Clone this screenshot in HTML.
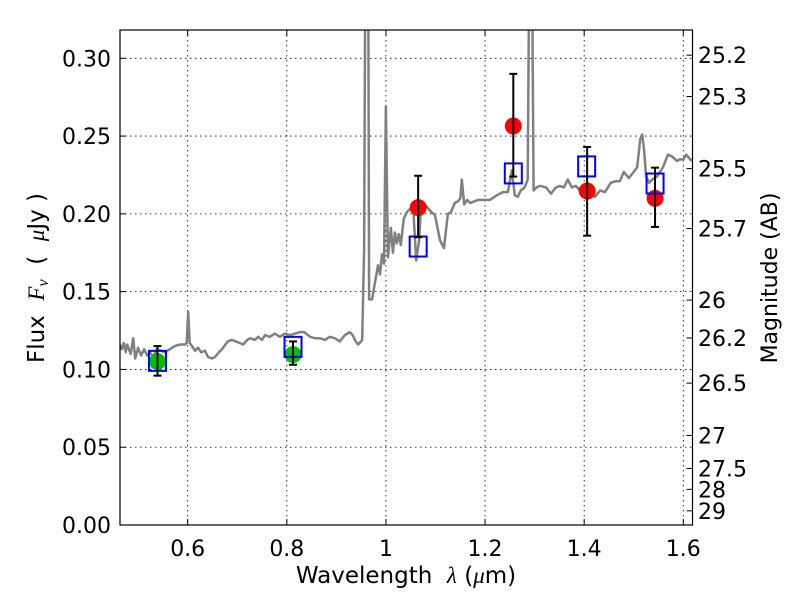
<!DOCTYPE html>
<html><head><meta charset="utf-8"><style>
html,body{margin:0;padding:0;background:#fff;}
svg{display:block;font-family:"DejaVu Sans","Liberation Sans",sans-serif;}
</style></head><body>
<svg id="chart" width="800" height="600" viewBox="0 0 800 600" xmlns="http://www.w3.org/2000/svg">
<rect width="800" height="600" fill="#fff"/>
<defs><clipPath id="clip"><rect x="120" y="30" width="572.5" height="495"/></clipPath></defs>
<g id="grid"></g>
<g id="spec" clip-path="url(#clip)"></g>
<g id="marks"></g>
<rect x="120" y="30" width="572.5" height="495" fill="none" stroke="#000" stroke-width="1.2"/>
<g id="axes"></g>
<text x="406" y="583" font-size="23" text-anchor="middle">Wavelength&#160;&#160;<tspan font-style="italic" font-family="Liberation Serif, serif">λ</tspan>&#160;(<tspan font-style="italic" font-family="Liberation Serif, serif">μ</tspan>m)</text>
<text transform="translate(44,278) rotate(-90)" font-size="23" text-anchor="middle">Flux&#160;&#160;<tspan font-style="italic" font-family="Liberation Serif, serif">F</tspan><tspan font-style="italic" font-family="Liberation Serif, serif" font-size="16" dy="4">ν</tspan><tspan dy="-4">&#160;&#160;(&#160;&#160;</tspan><tspan font-style="italic" font-family="Liberation Serif, serif">μ</tspan>Jy&#160;)</text>
<text transform="translate(777,278) rotate(-90)" font-size="22" text-anchor="middle">Magnitude (AB)</text>
</svg>
<script>
const specLam=[0.463,0.467,0.471,0.475,0.478,0.485,0.490,0.494,0.500,0.506,0.512,0.518,0.524,0.530,0.538,0.554,0.564,0.574,0.584,0.595,0.598,0.601,0.604,0.611,0.615,0.621,0.627,0.635,0.641,0.649,0.655,0.663,0.669,0.681,0.689,0.697,0.705,0.712,0.720,0.726,0.736,0.742,0.750,0.756,0.766,0.776,0.786,0.796,0.806,0.817,0.827,0.835,0.847,0.857,0.867,0.877,0.887,0.897,0.907,0.917,0.927,0.933,0.939,0.944,0.952,0.956,0.959,0.964,0.966,0.972,0.978,0.984,0.988,0.992,0.996,1.000,1.004,1.010,1.014,1.018,1.022,1.026,1.030,1.036,1.042,1.048,1.055,1.061,1.067,1.071,1.079,1.089,1.099,1.109,1.117,1.125,1.131,1.139,1.145,1.150,1.153,1.158,1.164,1.170,1.186,1.200,1.210,1.224,1.236,1.246,1.254,1.260,1.266,1.272,1.280,1.286,1.290,1.294,1.298,1.304,1.311,1.323,1.333,1.343,1.351,1.359,1.367,1.375,1.383,1.392,1.402,1.412,1.422,1.432,1.442,1.454,1.464,1.472,1.480,1.490,1.500,1.507,1.513,1.517,1.521,1.525,1.531,1.537,1.547,1.559,1.569,1.577,1.587,1.593,1.600,1.606,1.614,1.619];
const specFlux=[0.116,0.113,0.117,0.111,0.116,0.110,0.120,0.107,0.114,0.109,0.113,0.109,0.111,0.108,0.113,0.111,0.113,0.115,0.116,0.116,0.117,0.137,0.117,0.114,0.112,0.114,0.111,0.112,0.108,0.107,0.108,0.111,0.113,0.118,0.119,0.118,0.117,0.116,0.119,0.120,0.119,0.121,0.119,0.122,0.121,0.123,0.121,0.123,0.122,0.123,0.124,0.124,0.121,0.120,0.120,0.119,0.121,0.120,0.118,0.122,0.124,0.122,0.118,0.116,0.119,0.177,0.40,0.40,0.145,0.145,0.156,0.167,0.161,0.174,0.168,0.269,0.172,0.191,0.175,0.188,0.181,0.187,0.180,0.197,0.201,0.203,0.204,0.170,0.183,0.207,0.206,0.202,0.199,0.183,0.178,0.200,0.201,0.207,0.208,0.210,0.222,0.206,0.209,0.207,0.209,0.209,0.209,0.212,0.214,0.214,0.228,0.212,0.211,0.215,0.217,0.222,0.40,0.40,0.215,0.217,0.218,0.217,0.213,0.217,0.218,0.217,0.222,0.217,0.218,0.215,0.214,0.212,0.211,0.215,0.214,0.220,0.221,0.221,0.227,0.223,0.227,0.230,0.248,0.251,0.241,0.224,0.220,0.222,0.224,0.230,0.238,0.237,0.234,0.235,0.235,0.238,0.235,0.234];
const greenLam=[0.539,0.8125];
const greenFlux=[0.105,0.1095];
const greenErrLo=[0.096,0.103];
const greenErrHi=[0.115,0.118];
const boxLam=[0.539,0.8125,1.065,1.257,1.405,1.543];
const boxFlux=[0.1055,0.1145,0.179,0.226,0.2305,0.2195];
const redLam=[1.065,1.257,1.406,1.543];
const redFlux=[0.204,0.2565,0.2147,0.210];
const redErrLo=[0.185,0.224,0.186,0.1916];
const redErrHi=[0.2245,0.290,0.243,0.2297];
const xTicks=[0.6,0.8,1.0,1.2,1.4,1.6];
const xTickLabels=["0.6","0.8","1","1.2","1.4","1.6"];
const yTicks=[0,0.05,0.10,0.15,0.20,0.25,0.30];
const yTickLabels=["0.00","0.05","0.10","0.15","0.20","0.25","0.30"];
const magTicks=[25.2,25.3,25.5,25.7,26,26.2,26.5,27,27.5,28,29];
const magTickLabels=["25.2","25.3","25.5","25.7","26","26.2","26.5","27","27.5","28","29"];

const NS="http://www.w3.org/2000/svg";
const X=l=>187.7+(l-0.6)*495.6;
const Y=f=>525-f*1555.7;
const magToFlux=m=>Math.pow(10,(23.9-m)/2.5);
function mk(tag,attrs,parent){const e=document.createElementNS(NS,tag);for(const k in attrs)e.setAttribute(k,attrs[k]);parent.appendChild(e);return e;}
const grid=document.getElementById('grid'),axes=document.getElementById('axes'),spec=document.getElementById('spec'),marks=document.getElementById('marks');
const FS=22;
xTicks.forEach((t,i)=>{
  const x=X(t);
  const g=mk('line',{x1:x,x2:x,y1:30,y2:525,stroke:'#000','stroke-width':0.8,'stroke-dasharray':'1.5,3.5'},grid);
  
  
  mk('line',{x1:x,x2:x,y1:525,y2:519,stroke:'#000','stroke-width':1},axes);
  mk('line',{x1:x,x2:x,y1:30,y2:36,stroke:'#000','stroke-width':1},axes);
  const tx=mk('text',{x:x,y:556,'font-size':FS,'text-anchor':'middle'},axes);
  tx.textContent=xTickLabels[i];
  
  
});
yTicks.forEach((t,i)=>{
  const y=Y(t);
  const g=mk('line',{x1:120,x2:692.5,y1:y,y2:y,stroke:'#000','stroke-width':0.8,'stroke-dasharray':'1.5,3.5'},grid);
  
  
  mk('line',{x1:120,x2:126,y1:y,y2:y,stroke:'#000','stroke-width':1},axes);
  const tx=mk('text',{x:111,y:y+8,'font-size':FS,'text-anchor':'end'},axes);
  tx.textContent=yTickLabels[i];
  
  
});
magTicks.forEach((m,i)=>{
  const y=Y(magToFlux(m));
  mk('line',{x1:686.5,x2:692.5,y1:y,y2:y,stroke:'#000','stroke-width':1},axes);
  const tx=mk('text',{x:698,y:y+8,'font-size':FS,'text-anchor':'start'},axes);
  tx.textContent=magTickLabels[i];
  
  
});
const pts=specLam.map((l,i)=>X(l).toFixed(1)+','+Y(specFlux[i]).toFixed(1)).join(' ');
const pl=mk('polyline',{points:pts,fill:'none',stroke:'#808080','stroke-width':2.5,'stroke-linejoin':'round'},spec);



function errbar(l,lo,hi){
  const x=X(l);
  mk('line',{x1:x,x2:x,y1:Y(lo),y2:Y(hi),stroke:'#000','stroke-width':2},marks);
  mk('line',{x1:x-4,x2:x+4,y1:Y(lo),y2:Y(lo),stroke:'#000','stroke-width':2},marks);
  mk('line',{x1:x-4,x2:x+4,y1:Y(hi),y2:Y(hi),stroke:'#000','stroke-width':2},marks);
}
greenLam.forEach((l,i)=>{
  const c=mk('circle',{cx:X(l),cy:Y(greenFlux[i]),r:8.5,fill:'#00bf00'},marks);
  
  
});
redLam.forEach((l,i)=>{
  const c=mk('circle',{cx:X(l),cy:Y(redFlux[i]),r:8.5,fill:'#ff0000'},marks);
  
  
});
boxLam.forEach((l,i)=>{
  const r=mk('rect',{x:X(l)-8.5,y:Y(boxFlux[i])-10,width:17,height:20,fill:'none',stroke:'#0000ff','stroke-width':2},marks);
  
  
});
greenLam.forEach((l,i)=>errbar(l,greenErrLo[i],greenErrHi[i]));
redLam.forEach((l,i)=>errbar(l,redErrLo[i],redErrHi[i]));
</script>
</body></html>
